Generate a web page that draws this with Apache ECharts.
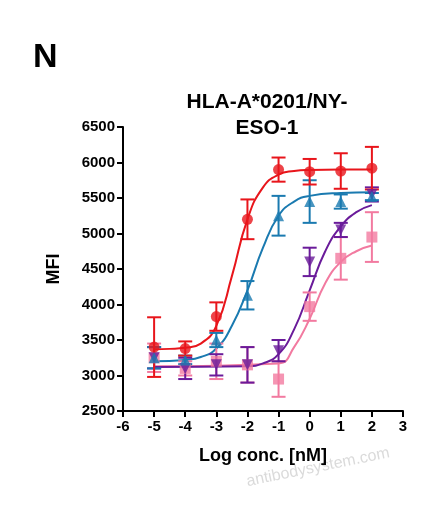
<!DOCTYPE html><html><head><meta charset="utf-8"><script src="https://cdn.jsdelivr.net/npm/echarts@6/dist/echarts.min.js"></script></head><body style="margin:0"><div id="c" style="width:426px;height:519px"></div><script>
const xs=[-5,-4,-3,-2,-1,0,1,2];
const redY=[3400,3380,3830,5200,5900,5870,5880,5920], redE=[420,100,200,280,170,180,250,300];
const blueY=[3250,3220,3500,4130,5250,5450,5450,5520], blueE=[150,60,100,200,280,300,100,50];
const purpY=[3250,3100,3150,3150,3350,4600,5050,5550], purpE=[150,150,150,250,150,200,100,100];
const pinkY=[3250,3100,3200,3150,2950,3970,4650,4950], pinkE=[200,100,250,250,250,200,300,350];
const redFit=[[-5,3370],[-4.5,3375],[-4,3390],[-3.5,3450],[-3,3700],[-2.5,4400],[-2,5200],[-1.5,5650],[-1,5830],[-0.5,5880],[0,5895],[1,5900],[2,5900]];
const blueFit=[[-5,3200],[-4,3220],[-3.5,3260],[-3,3380],[-2.5,3700],[-2,4200],[-1.5,4800],[-1,5250],[-0.5,5450],[0,5530],[1,5570],[2,5580]];
const purpFit=[[-5,3120],[-2,3130],[-1.5,3170],[-1,3300],[-0.5,3650],[0,4200],[0.5,4750],[1,5100],[1.5,5300],[2,5400]];
const pinkFit=[[-5,3130],[-1,3170],[-0.5,3400],[0,3800],[0.5,4300],[1,4600],[1.5,4750],[2,4830]];
const groups=[
 {y:redY,e:redE,f:redFit,c:'#e8151b',s:'circle',r:0},
 {y:blueY,e:blueE,f:blueFit,c:'#1a7ab0',s:'triangle',r:0},
 {y:purpY,e:purpE,f:purpFit,c:'#6a1b9a',s:'triangle',r:180},
 {y:pinkY,e:pinkE,f:pinkFit,c:'#f27aa0',s:'rect',r:0}];
const series=[];
groups.slice().reverse().forEach(g=>{
 series.push({type:'line',data:g.f,smooth:0.5,showSymbol:false,lineStyle:{color:g.c,width:2},z:2});
 series.push({type:'custom',z:3,data:xs.map((x,i)=>[x,g.y[i]-g.e[i],g.y[i]+g.e[i]]),
  renderItem:(p,api)=>{const a=api.coord([api.value(0),api.value(1)]),b=api.coord([api.value(0),api.value(2)]);const w=7;
   return {type:'group',children:[{type:'line',shape:{x1:a[0],y1:a[1],x2:b[0],y2:b[1]},style:{stroke:g.c,lineWidth:2}},
   {type:'line',shape:{x1:a[0]-w,y1:a[1],x2:a[0]+w,y2:a[1]},style:{stroke:g.c,lineWidth:2}},
   {type:'line',shape:{x1:b[0]-w,y1:b[1],x2:b[0]+w,y2:b[1]},style:{stroke:g.c,lineWidth:2}}]};}});
 series.push({type:'scatter',z:4,data:xs.map((x,i)=>[x,g.y[i]]),symbol:g.s,symbolRotate:g.r,symbolSize:11,itemStyle:{color:g.c}});
});
const ax={axisLine:{onZero:false,lineStyle:{color:'#000',width:2}},axisTick:{show:true,length:6,lineStyle:{color:'#000',width:2}},axisLabel:{color:'#000',fontSize:15,fontWeight:'bold',fontFamily:'Liberation Sans',formatter:v=>String(v)},splitLine:{show:false}};
const ch=echarts.init(document.getElementById('c'));
ch.setOption({animation:false,
 title:[{text:'N',left:28,top:36,textStyle:{fontSize:34,fontWeight:'bold',color:'#000',fontFamily:'Liberation Sans'}},
  {text:'HLA-A*0201/NY-\nESO-1',left:262,textAlign:'center',top:84,textStyle:{fontSize:21,fontWeight:'bold',color:'#000',lineHeight:26,fontFamily:'Liberation Sans'}}],
 graphic:[{type:'text',left:245,top:445,rotation:0.2,style:{text:'antibodysystem.com',fontSize:16,fill:'rgba(150,150,150,0.35)',fontFamily:'Liberation Sans'}}],
 grid:{left:123,right:23,top:127,bottom:108},
 xAxis:Object.assign({type:'value',min:-6,max:3,interval:1,name:'Log conc. [nM]',nameLocation:'middle',nameGap:36,nameTextStyle:{fontSize:18,fontWeight:'bold',color:'#000',fontFamily:'Liberation Sans'}},ax),
 yAxis:Object.assign({type:'value',min:2500,max:6500,interval:500,name:'MFI',nameLocation:'middle',nameGap:60,nameTextStyle:{fontSize:18,fontWeight:'bold',color:'#000',fontFamily:'Liberation Sans'}},ax),
 series});
</script></body></html>
